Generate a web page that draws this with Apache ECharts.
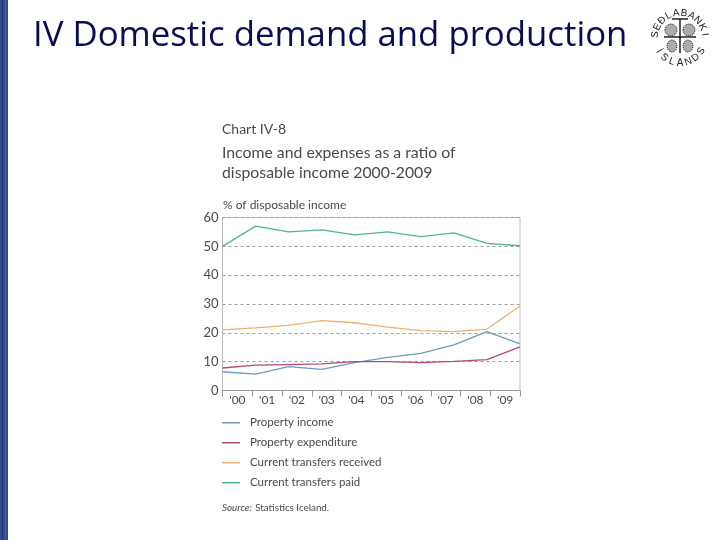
<!DOCTYPE html>
<html><head><meta charset="utf-8">
<style>html,body{margin:0;padding:0;background:#fff}#c{width:720px;height:540px}</style>
<script src="https://cdn.jsdelivr.net/npm/echarts@6/dist/echarts.min.js"></script></head>
<body><div id="c"></div>
<script>
const yearLabels = ["'00","'01","'02","'03","'04","'05","'06","'07","'08","'09"];
const propertyIncome = [6.5,5.7,8.3,7.3,9.7,11.5,12.9,15.8,20.4,16.2];
const propertyExpenditure = [7.8,8.8,9.0,9.2,10.0,10.0,9.7,10.1,10.7,15.1];
const transfersReceived = [21.0,21.7,22.6,24.2,23.5,22.0,20.8,20.4,21.3,29.3];
const transfersPaid = [50.0,57.0,55.0,55.7,54.0,55.0,53.4,54.7,51.0,50.2];
const seriesNames = ['Property income','Property expenditure','Current transfers received','Current transfers paid'];
const seriesColors = ['#6f9bc0','#b5487f','#eeb26e','#4fb596'];
const sealTop = 'SEÐLABANKI';
const sealBottom = 'ÍSLANDS';

const chart = echarts.init(document.getElementById('c'), null, {renderer:'canvas'});
const FONT = 'Lato';
const TXT = '#4a4a4a';
const cx = 680, cy = 38, R = 25;
const sealItems = [];
sealTop.split('').forEach((ch,i,a)=>{
  const ang = (-172 + i*164/(a.length-1))*Math.PI/180;
  sealItems.push({type:'text',x:cx+R*Math.cos(ang),y:cy+R*Math.sin(ang),rotation:-(ang+Math.PI/2),
    style:{text:ch,font:'10px "Liberation Sans"',fill:'#222',align:'center',verticalAlign:'middle'}});
});
sealBottom.split('').forEach((ch,i,a)=>{
  const ang = (148 - i*116/(a.length-1))*Math.PI/180;
  sealItems.push({type:'text',x:cx+R*Math.cos(ang),y:cy+R*Math.sin(ang),rotation:-(ang-Math.PI/2),
    style:{text:ch,font:'10px "Liberation Sans"',fill:'#222',align:'center',verticalAlign:'middle'}});
});
[[cx-16,cy-1,cx+16,cy-1],[cx,cy-19,cx,cy+15],[cx-8,cy-19,cx+8,cy-19]].forEach(l=>{
  sealItems.push({type:'line',shape:{x1:l[0],y1:l[1],x2:l[2],y2:l[3]},style:{stroke:'#111',lineWidth:1.4}});
});
[[cx-9,cy-8,6,6],[cx+9,cy-8,6,6],[cx-8,cy+8,5,6],[cx+8,cy+8,5,6]].forEach(e=>{
  sealItems.push({type:'ellipse',shape:{cx:e[0],cy:e[1],rx:e[2],ry:e[3]},style:{fill:'#aaa',stroke:'#222',lineWidth:1,lineDash:[1,1]}});
});

const strips = [];
[['#2f4a86',0,8],['#1f3670',2,1],['#4a66a3',5,1]].forEach(s=>{
  strips.push({type:'rect',shape:{x:s[1],y:0,width:s[2],height:540},style:{fill:s[0]}});
});

function txt(x,y,text,font,fill){
  return {type:'text',x,y,style:{text,font,fill:fill||TXT,verticalAlign:'middle'}};
}

const opt = {
  animation:false,
  backgroundColor:'#fff',
  title:{text:'IV Domestic demand and production',left:28,top:14,
    textStyle:{fontFamily:'Open Sans',fontSize:34.75,fontWeight:'normal',color:'#0a0d55'}},
  grid:{left:222.5,right:200,top:217.5,bottom:149.5,show:true,borderColor:'#bdbdbd',borderWidth:1,backgroundColor:'#fff'},
  legend:{left:217,top:411,orient:'vertical',itemWidth:18,itemHeight:1.5,itemGap:6.5,icon:'rect',
    data:seriesNames,selectedMode:false,
    textStyle:{fontFamily:FONT,fontSize:11.5,color:TXT,padding:[0,0,0,5],lineHeight:13.5}},
  xAxis:[
    {type:'category',data:yearLabels,boundaryGap:true,position:'bottom',
      axisLine:{show:true,lineStyle:{color:'#9a9a9a'}},
      axisTick:{show:true,length:6,alignWithLabel:false,lineStyle:{color:'#9a9a9a'}},
      axisLabel:{fontFamily:FONT,fontSize:12,color:TXT,margin:4},splitLine:{show:false}},
    {type:'category',data:yearLabels,boundaryGap:false,position:'bottom',show:false}
  ],
  yAxis:{type:'value',min:0,max:60,interval:10,
    axisLine:{show:false},axisTick:{show:false},
    axisLabel:{fontFamily:FONT,fontSize:13,color:TXT,margin:4},
    splitLine:{show:true,lineStyle:{type:[3,3],color:'#9c9c9c',width:1}}},
  series:[propertyIncome,propertyExpenditure,transfersReceived,transfersPaid].map((d,i)=>({
    name:seriesNames[i],type:'line',xAxisIndex:1,data:d,symbol:'none',z:3+i,
    lineStyle:{color:seriesColors[i],width:1.3},itemStyle:{color:seriesColors[i]}
  })),
  graphic:[...strips,
    txt(222,129,'Chart IV-8','14px '+FONT),
    txt(222,153,'Income and expenses as a ratio of','15.8px '+FONT),
    txt(222,173,'disposable income 2000-2009','15.8px '+FONT),
    txt(223,205,'% of disposable income','12px '+FONT),
    {type:'text',x:222,y:508,style:{rich:{i:{font:'italic 9.8px '+FONT,fill:TXT},n:{font:'9.8px '+FONT,fill:TXT}},text:'{i|Source:} {n|Statistics Iceland.}',verticalAlign:'middle'}},
    ...sealItems]
};
chart.setOption(opt);
</script></body></html>
